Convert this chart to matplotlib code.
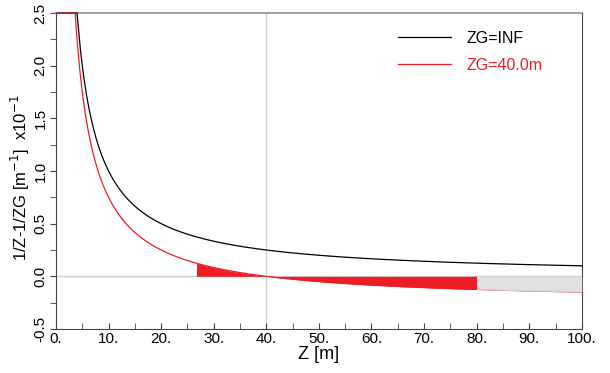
import matplotlib.pyplot as plt
import numpy as np

WIDTH = 6.1
HEIGHT = 3.73
DPI = 100
OUTPUT = "out.png"

plt.rcParams["font.family"] = ["Liberation Sans", "DejaVu Sans"]

# curve parameters (ZG = inf -> 1/ZG = 0)
labels = ["ZG=INF", "ZG=40.0m"]
zg_values = [np.inf, 40.0]
colors = ["black", "#ee1c25"]
scale = 10.0          # y shown in units of x10-1
y_clip = 2.5

fill_start = 26.7
fill_mid = 80.0
fill_end = 100.0

x_ticks = [0, 10, 20, 30, 40, 50, 60, 70, 80, 90, 100]
x_ticklabels = ["0.", "10.", "20.", "30.", "40.", "50.", "60.", "70.", "80.", "90.", "100."]
y_ticks = [-0.5, 0.0, 0.5, 1.0, 1.5, 2.0, 2.5]
y_ticklabels = ["-0.5", "0.0", "0.5", "1.0", "1.5", "2.0", "2.5"]

z = np.linspace(0.2, 100, 2000)

fig = plt.figure(figsize=[WIDTH, HEIGHT], dpi=DPI)
ax = fig.add_axes([0.0918, 0.118, 0.862, 0.847])

ax.axhline(0, color="#d0d0d0", lw=1, zorder=1)
ax.axvline(40, color="#d0d0d0", lw=1, zorder=1)

curves = []
for lab, zg, c in zip(labels, zg_values, colors):
    y = scale * (1.0 / z - 1.0 / zg)
    y = np.minimum(y, y_clip)
    curves.append(y)
    ax.plot(z, y, color=c, lw=0.9, label=lab, zorder=3, clip_on=False)

red_y = curves[1]
m1 = (z >= fill_start) & (z <= fill_mid)
ax.fill_between(z[m1], 0, red_y[m1], color="#ee1c25", lw=0, zorder=2)
m2 = (z >= fill_mid) & (z <= fill_end)
ax.fill_between(z[m2], 0, red_y[m2], color="#dcdddf", lw=0, zorder=4, alpha=0.9)

ax.set_xlim(0, 100)
ax.set_ylim(-0.5, 2.5)

ax.set_xticks(x_ticks)
ax.set_xticklabels(x_ticklabels, fontsize=11)
ax.set_xticks(np.arange(5, 100, 10), minor=True)
ax.tick_params(axis="x", which="both", direction="in", length=4, color="#444444", pad=2)

ax.set_yticks(y_ticks)
ax.set_yticklabels(y_ticklabels, fontsize=11, rotation=90, va="center")
ax.set_yticks(np.arange(-0.25, 2.5, 0.5), minor=True)
ax.tick_params(axis="y", which="both", direction="out", length=4, color="#444444", pad=2)

for s in ["left", "right", "bottom"]:
    ax.spines[s].set_color("#444444")
ax.spines["top"].set_color("#999999")
ax.spines["top"].set_linewidth(1.3)
ax.spines["top"].set_zorder(2)

ax.set_xlabel("Z [m]", fontsize=13, labelpad=0)
ax.set_ylabel("1/Z-1/ZG [m$^{-1}$]  x10$^{-1}$", fontsize=12)
ax.yaxis.set_label_coords(-0.045, 0.48)

leg = ax.legend(loc="upper right", frameon=False, fontsize=11.5, handlelength=3.3,
                handletextpad=1.0, labelspacing=0.75, labelcolor="linecolor",
                bbox_to_anchor=(0.953, 0.99))

plt.savefig(OUTPUT)
